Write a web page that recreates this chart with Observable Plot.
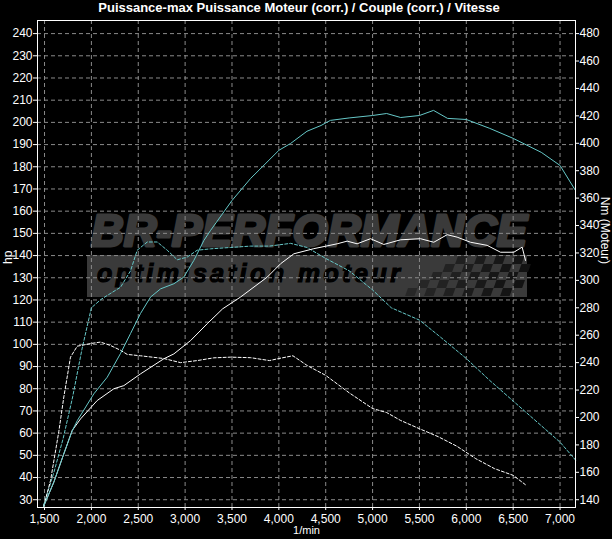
<!DOCTYPE html>
<html><head><meta charset="utf-8">
<script src="https://cdn.jsdelivr.net/npm/d3@7"></script>
<script src="https://cdn.jsdelivr.net/npm/@observablehq/plot@0.6"></script>
<style>
html,body{margin:0;padding:0;background:#000;}
#title{height:19px;line-height:20px;color:#fff;font:bold 13px "Liberation Sans Narrow","Arial Narrow","Liberation Sans",sans-serif;text-align:center;width:612px;padding-right:14px;box-sizing:border-box;white-space:nowrap;}
</style></head><body>
<div id="title">Puissance-max Puissance Moteur (corr.) / Couple (corr.) / Vitesse</div>
<div id="chart"></div>
<script>
// ---- data ----
const cyanPowerRpm = [1490,1600,1700,1795,1849,2026,2169,2311,2418,2524,2631,2738,2880,2986,3093,3200,3271,3500,3700,4000,4125,4300,4450,4550,4750,5000,5150,5300,5500,5650,5800,6000,6250,6500,6800,7000,7165];
const cyanPowerHp  = [27,38,50,61,65.6,77.7,85.2,95.9,104.9,113.9,121.3,125,127.3,130.3,137.8,146.8,151.3,164.8,174.8,187.4,190.5,196,198.6,200.9,202,203.1,204,202.2,203.1,205.4,201.8,201.3,197.3,192.8,186.5,180.6,169.3];

const cyanTorqueRpm = [1490,1600,1700,1800,1900,2000,2100,2169,2311,2418,2489,2596,2702,2809,2916,3022,3129,3271,3484,3700,3900,4125,4300,4500,4750,5000,5200,5500,5700,6000,6250,6500,6800,7000,7165];
const cyanTorqueNm  = [136,160,185,215,250,280,286,289,295,307,322,328,328,322,315,317,322,323,324,325,325,327,324,316,307,293,280,271,260,243,227,212,194,182,169];

const whitePowerRpm = [1490,1600,1700,1795,1884,2062,2240,2346,2524,2773,2880,3058,3236,3400,3591,3876,4018,4160,4373,4622,4729,4835,4978,5120,5298,5511,5653,5796,5902,6045,6222,6365,6507,6596,6632];
const whitePowerHp  = [27,38,50,61.2,66.4,74.7,80,81.4,86.7,93.5,95.7,101.7,109.3,116,121.3,130.3,136.3,140.8,143.1,145.3,146.5,145.3,147.6,145,147.1,147.6,146,149.4,148.3,146,144.6,141.5,141.5,143.8,137.8];

const whiteTorqueRpm = [1490,1564,1653,1706,1777,1849,2000,2097,2204,2311,2382,2524,2773,2951,3129,3306,3484,3700,3900,4000,4150,4300,4500,4750,5000,5150,5300,5500,5700,5900,6100,6300,6500,6630];
const whiteTorqueNm  = [135,154,190,215,244,252,254,255,252.5,249,246,245,243,240,241.5,243.5,244,243.6,241.5,243,245,238,230.7,218,206.5,203.6,197.8,191.8,186,179,170,162.7,157.8,151];

const hpTicks  = [30,40,50,60,70,80,90,100,110,120,130,140,150,160,170,180,190,200,210,220,230,240];
const nmTicks  = [140,160,180,200,220,240,260,280,300,320,340,360,380,400,420,440,460,480];
const rpmTicks = [1500,2000,2500,3000,3500,4000,4500,5000,5500,6000,6500,7000];

// right axis (Nm) is linked to left axis (hp): 30 hp <-> 140 Nm, 240 hp <-> 480 Nm
const nmToHp = nm => 30 + (nm - 140) * 210 / 340;
const hpToNm = hp => 140 + (hp - 30) * 340 / 210;

const FONT = '"Liberation Sans Narrow","Arial Narrow","Liberation Sans",sans-serif';
const CYAN = "#66c8c8";
const GRID = {stroke: "#8a8a8a", strokeOpacity: 1, strokeDasharray: "4,3"};

const chart = Plot.plot({
  width: 612, height: 520,
  marginTop: 1, marginBottom: 32, marginLeft: 37, marginRight: 37,
  style: {background: "#000", color: "#fff", fontFamily: FONT, fontSize: "12px"},
  x: {domain: [1425, 7165]},
  y: {domain: [26.5, 245.9]},
  marks: [
    Plot.gridX(rpmTicks, GRID),
    Plot.gridY(hpTicks, GRID),
    Plot.axisY(hpTicks, {anchor: "left", tickSize: 4, tickPadding: 1, label: null, stroke: "#fff", fill: "#fff"}),
    Plot.axisY(nmTicks.map(nmToHp), {anchor: "right", tickSize: 3, tickPadding: 1, label: null, stroke: "#fff", fill: "#fff",
      tickFormat: d => String(Math.round(hpToNm(d)))}),
    Plot.axisX(rpmTicks, {anchor: "bottom", tickSize: 3, tickPadding: 4, label: null, stroke: "#fff", fill: "#fff",
      tickFormat: d3.format(",")}),
    Plot.line(cyanTorqueNm, {x: cyanTorqueRpm, y: cyanTorqueNm.map(nmToHp), stroke: CYAN, strokeWidth: 1, strokeDasharray: "3,2"}),
    Plot.line(whiteTorqueNm, {x: whiteTorqueRpm, y: whiteTorqueNm.map(nmToHp), stroke: "#fff", strokeWidth: 1, strokeDasharray: "3,2"}),
    Plot.line(whitePowerHp, {x: whitePowerRpm, y: whitePowerHp, stroke: "#fff", strokeWidth: 1}),
    Plot.line(cyanPowerHp, {x: cyanPowerRpm, y: cyanPowerHp, stroke: CYAN, strokeWidth: 1}),
    Plot.frame({stroke: "#fff"}),
    Plot.text(["hp"], {frameAnchor: "left", dx: -29, rotate: -90, fill: "#fff", fontSize: 12}),
    Plot.text(["Nm (Moteur)"], {frameAnchor: "right", dx: 29, rotate: 90, fill: "#fff", fontSize: 12}),
    Plot.text(["1/min"], {frameAnchor: "bottom", dy: 26.5, fill: "#fff", fontSize: 11})
  ]
});
document.getElementById("chart").appendChild(chart);

// ---- watermark (decoration, drawn under the grid) ----
const ns = "http://www.w3.org/2000/svg";
const wmNode = document.createElementNS(ns, "g");
const styleEl = chart.querySelector("style");
chart.insertBefore(wmNode, styleEl ? styleEl.nextSibling : chart.firstChild);
const wm = d3.select(wmNode).attr("text-anchor", "start");
const oy = -19; // page -> svg offset
const WM = "#3a3a3a";
wm.append("rect").attr("x", 87).attr("y", 255 + oy).attr("width", 440).attr("height", 42).attr("fill", WM);
wm.append("text").attr("x", 91).attr("y", 246 + oy).attr("text-anchor", "start")
  .attr("font-family", '"Liberation Sans",Arial,sans-serif').attr("font-weight", "bold").attr("font-style", "italic")
  .attr("font-size", 44).attr("fill", WM).attr("stroke", WM).attr("stroke-width", 3).attr("stroke-linejoin", "round")
  .attr("textLength", 436).attr("lengthAdjust", "spacingAndGlyphs")
  .text("BR-PERFORMANCE");
const flag = wm.append("g").attr("transform", `translate(0,${oy})`);
for (let r = 0; r < 5; r++) {
  for (let c = 0; c < 12; c++) {
    if ((r + c) % 2 === 0 && c >= 4 - r) {
      const x0 = 420 + c * 9.5 - r * 3, y0 = 256 + r * 8;
      flag.append("rect")
        .attr("x", x0).attr("y", y0)
        .attr("width", 9.5).attr("height", 8)
        .attr("transform", `translate(${x0},${y0}) skewX(-20) translate(${-x0},${-y0})`)
        .attr("fill", "#121212").attr("opacity", 0.45 + 0.55 * c / 11);
    }
  }
}
wm.append("text").attr("x", 97).attr("y", 282 + oy).attr("text-anchor", "start")
  .attr("font-family", '"Liberation Sans",Arial,sans-serif').attr("font-weight", "bold").attr("font-style", "italic")
  .attr("font-size", 25).attr("fill", "#000").attr("stroke", "#000").attr("stroke-width", 1.2)
  .attr("textLength", 303).attr("lengthAdjust", "spacing")
  .text("optimisation moteur");
</script></body></html>
